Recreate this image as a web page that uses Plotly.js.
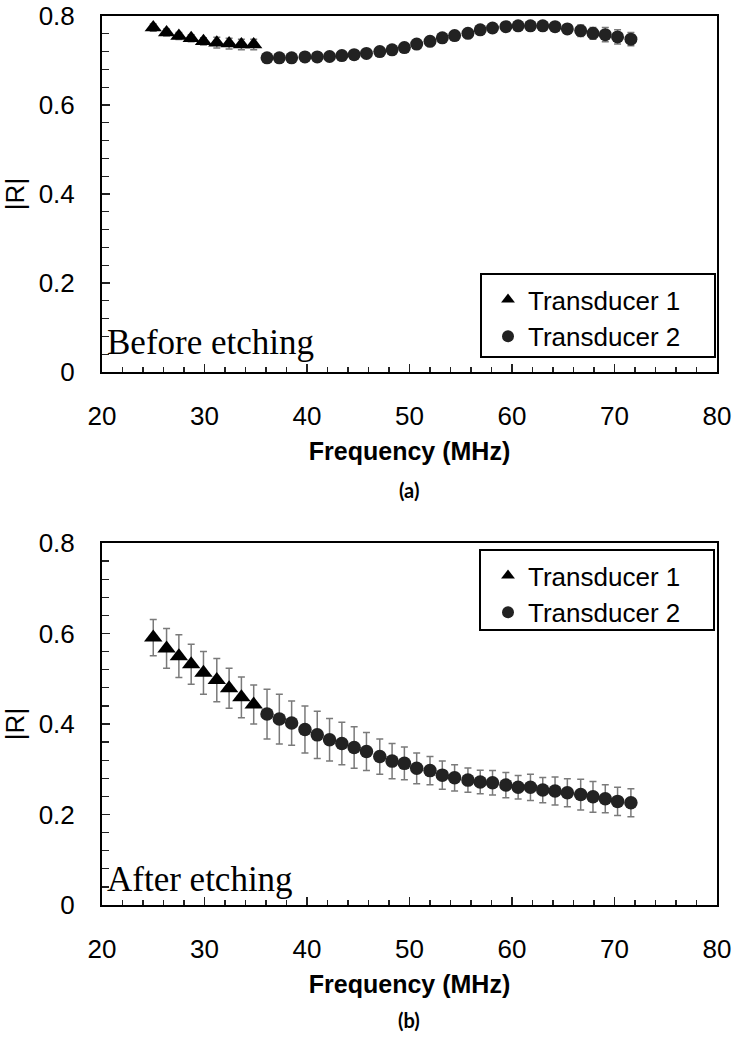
<!DOCTYPE html>
<html><head><meta charset="utf-8">
<script src="https://cdn.plot.ly/plotly-3.0.1.min.js"></script>
<style>html,body{margin:0;padding:0;background:#fff}</style>
</head><body><div id="chart" style="width:735px;height:1050px"></div>
<script>
// ---------- data ----------
const freqT1 = [25.0, 26.3, 27.5, 28.7, 29.9, 31.2, 32.4, 33.6, 34.8];
const freqT2 = [36.1, 37.3, 38.5, 39.8, 41.0, 42.2, 43.4, 44.6, 45.8, 47.1,
                48.3, 49.5, 50.7, 52.0, 53.2, 54.4, 55.7, 56.9, 58.1, 59.4,
                60.6, 61.8, 63.0, 64.2, 65.4, 66.7, 67.9, 69.1, 70.3, 71.6];

// (a) Before etching
const beforeT1    = [0.774, 0.763, 0.755, 0.750, 0.743, 0.740, 0.738, 0.736, 0.736];
const beforeT1Err = [0.008, 0.008, 0.008, 0.008, 0.008, 0.012, 0.012, 0.012, 0.012];
const beforeT2    = [0.706, 0.706, 0.706, 0.708, 0.708, 0.709, 0.711, 0.713, 0.716, 0.720,
                     0.724, 0.729, 0.737, 0.743, 0.751, 0.756, 0.761, 0.769, 0.773, 0.776,
                     0.778, 0.778, 0.778, 0.776, 0.771, 0.767, 0.761, 0.758, 0.753, 0.748];
const beforeT2Err = [0.005, 0.005, 0.005, 0.005, 0.005, 0.005, 0.005, 0.006, 0.006, 0.006,
                     0.006, 0.006, 0.006, 0.006, 0.007, 0.007, 0.007, 0.007, 0.007, 0.008,
                     0.008, 0.008, 0.009, 0.009, 0.010, 0.013, 0.013, 0.016, 0.016, 0.015];

// (b) After etching
const afterT1    = [0.591, 0.567, 0.550, 0.532, 0.513, 0.497, 0.479, 0.459, 0.443];
const afterT1Err = [0.040, 0.044, 0.047, 0.044, 0.047, 0.048, 0.044, 0.045, 0.043];
const afterT2    = [0.422, 0.411, 0.402, 0.388, 0.376, 0.365, 0.357, 0.348, 0.339, 0.328,
                    0.318, 0.313, 0.302, 0.297, 0.287, 0.281, 0.276, 0.272, 0.270, 0.265,
                    0.260, 0.260, 0.254, 0.252, 0.248, 0.244, 0.239, 0.235, 0.229, 0.226];
const afterT2Err = [0.055, 0.055, 0.049, 0.052, 0.052, 0.047, 0.047, 0.046, 0.042, 0.039,
                    0.039, 0.036, 0.034, 0.031, 0.031, 0.029, 0.027, 0.026, 0.027, 0.028,
                    0.026, 0.029, 0.028, 0.031, 0.031, 0.034, 0.034, 0.031, 0.031, 0.031];

const seriesNames = ['Transducer 1', 'Transducer 2'];
const panelLabels = ['(a)', '(b)'];
const stateLabels = ['Before etching', 'After etching'];
const xTitle = 'Frequency (MHz)';
const yTitle = '|R|';

// ---------- layout helpers ----------
const W = 735, H = 1050;
const fx = v => v / W;
const fy = v => 1 - v / H;
const SANS = 'Liberation Sans, Arial, sans-serif';
const SERIF = 'Liberation Serif, Times New Roman, serif';

const errStyle = a => ({type: 'data', array: a, visible: true, color: '#7a7a7a', thickness: 1.5, width: 3.5});

const traces = [
  {x: freqT1, y: beforeT1, error_y: errStyle(beforeT1Err), name: seriesNames[0], mode: 'markers',
   type: 'scatter', xaxis: 'x', yaxis: 'y', legend: 'legend',
   marker: {symbol: 'triangle-up', size: 15, color: '#000'}},
  {x: freqT2, y: beforeT2, error_y: errStyle(beforeT2Err), name: seriesNames[1], mode: 'markers',
   type: 'scatter', xaxis: 'x', yaxis: 'y', legend: 'legend',
   marker: {symbol: 'circle', size: 13, color: '#222'}},
  {x: freqT1, y: afterT1, error_y: errStyle(afterT1Err), name: seriesNames[0], mode: 'markers',
   type: 'scatter', xaxis: 'x2', yaxis: 'y2', legend: 'legend2',
   marker: {symbol: 'triangle-up', size: 16, color: '#000'}},
  {x: freqT2, y: afterT2, error_y: errStyle(afterT2Err), name: seriesNames[1], mode: 'markers',
   type: 'scatter', xaxis: 'x2', yaxis: 'y2', legend: 'legend2',
   marker: {symbol: 'circle', size: 13.5, color: '#222'}}
];

function xAxis(anchor) {
  return {
    anchor: anchor, domain: [fx(102), fx(717)], range: [20, 80], tick0: 20, dtick: 10,
    ticks: 'inside', ticklen: 8, tickwidth: 1.5, tickcolor: '#222',
    showline: true, linewidth: 2, linecolor: '#000', mirror: true,
    showgrid: false, zeroline: false, fixedrange: true, ticklabeloverflow: 'allow',
    tickfont: {family: SANS, size: 26, color: '#000'}, ticklabelstandoff: 20,
    minor: {dtick: 2, ticks: 'inside', ticklen: 5, tickwidth: 1.2, tickcolor: '#222', showgrid: false},
    title: {text: xTitle, font: {family: SANS, size: 25, color: '#000', weight: 'bold'}, standoff: 12}
  };
}
function yAxis(anchor, top, bottom) {
  return {
    anchor: anchor, domain: [fy(bottom), fy(top)], range: [0, 0.8], tick0: 0, dtick: 0.2,
    ticks: 'inside', ticklen: 8, tickwidth: 1.5, tickcolor: '#222',
    showline: true, linewidth: 2, linecolor: '#000', mirror: true,
    showgrid: false, zeroline: false, fixedrange: true, ticklabeloverflow: 'allow',
    tickfont: {family: SANS, size: 26, color: '#000'}, ticklabelstandoff: 20,
    minor: {dtick: 0.04, ticks: 'inside', ticklen: 7, tickwidth: 1.2, tickcolor: '#222', showgrid: false},
    title: {text: yTitle, font: {family: SANS, size: 26, color: '#000'}, standoff: 12}
  };
}

const legendBase = (top) => ({
  x: fx(488), xanchor: 'left', y: fy(top), yanchor: 'top',
  bgcolor: 'rgba(0,0,0,0)', borderwidth: 0, itemsizing: 'constant',
  font: {family: SANS, size: 26, color: '#000'}, traceorder: 'normal'
});

const layout = {
  width: W, height: H, margin: {l: 0, r: 0, t: 0, b: 0},
  paper_bgcolor: '#fff', plot_bgcolor: '#fff', showlegend: true,
  xaxis: xAxis('y'), yaxis: yAxis('x', 16, 372),
  xaxis2: xAxis('y2'), yaxis2: yAxis('x2', 543, 905),
  legend: legendBase(276), legend2: legendBase(552),
  shapes: [
    {type: 'rect', xref: 'paper', yref: 'paper', x0: fx(481), x1: fx(715), y0: fy(357), y1: fy(274),
     line: {color: '#000', width: 2}, fillcolor: 'rgba(0,0,0,0)', layer: 'above'},
    {type: 'rect', xref: 'paper', yref: 'paper', x0: fx(480), x1: fx(714), y0: fy(630), y1: fy(550),
     line: {color: '#000', width: 2}, fillcolor: 'rgba(0,0,0,0)', layer: 'above'}
  ],
  annotations: [
    {text: stateLabels[0], xref: 'paper', yref: 'paper', x: fx(105), y: fy(342), xanchor: 'left', yanchor: 'middle',
     showarrow: false, font: {family: SERIF, size: 35, color: '#000'}},
    {text: stateLabels[1], xref: 'paper', yref: 'paper', x: fx(105), y: fy(879), xanchor: 'left', yanchor: 'middle',
     showarrow: false, font: {family: SERIF, size: 35, color: '#000'}},
    {text: panelLabels[0], xref: 'paper', yref: 'paper', x: fx(409), y: fy(490), xanchor: 'center', yanchor: 'middle',
     showarrow: false, font: {family: 'Lato, Open Sans, sans-serif', size: 20, color: '#000', weight: 'bold'}},
    {text: panelLabels[1], xref: 'paper', yref: 'paper', x: fx(409), y: fy(1020), xanchor: 'center', yanchor: 'middle',
     showarrow: false, font: {family: 'Lato, Open Sans, sans-serif', size: 20, color: '#000', weight: 'bold'}}
  ]
};

Plotly.newPlot('chart', traces, layout, {displayModeBar: false, staticPlot: true});
</script>
</body></html>
